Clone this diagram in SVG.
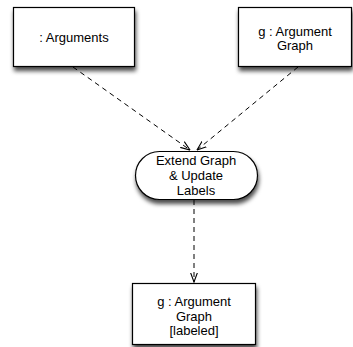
<svg xmlns="http://www.w3.org/2000/svg" width="353" height="347" viewBox="0 0 353 347">
  <style>
    .node { fill: #ffffff; stroke: #000000; stroke-width: 1.2; filter: url(#shadow); }
    .label { font-family: "Liberation Sans", Arial, sans-serif; font-size: 13px; fill: #000000; text-anchor: middle; }
    .flow { fill: none; stroke: #000000; stroke-width: 1; stroke-dasharray: 5 4; marker-end: url(#open-arrow); }
  </style>
  <defs>
    <filter id="shadow" x="-20%" y="-20%" width="140%" height="150%">
      <feDropShadow dx="1" dy="4" stdDeviation="2" flood-color="#000000" flood-opacity="0.7"/>
    </filter>
    <marker id="open-arrow" viewBox="0 0 10 10" refX="9.5" refY="5" markerWidth="10" markerHeight="10" markerUnits="userSpaceOnUse" orient="auto">
      <path d="M0,1.5 L9.5,5 L0,8.5" fill="none" stroke="#000000" stroke-width="1.1"/>
    </marker>
  </defs>

  <!-- object flows -->
  <g id="connectors">
    <path class="flow" d="M73,67 L190,150"/>
    <path class="flow" d="M298,67 L197,150"/>
    <path class="flow" d="M194,200 L194,282"/>
  </g>

  <!-- input object: arguments -->
  <g id="arguments">
    <rect class="node" x="13.5" y="7.5" width="121" height="59"/>
    <text class="label" x="74" y="42">: Arguments</text>
  </g>

  <!-- input object: argument graph -->
  <g id="argument-graph">
    <rect class="node" x="238.5" y="7.5" width="113" height="59"/>
    <text class="label" x="295" y="36">g : Argument</text>
    <text class="label" x="295" y="50">Graph</text>
  </g>

  <!-- action -->
  <g id="extend-graph">
    <rect class="node" x="135.5" y="151.5" width="122" height="48" rx="24" ry="24"/>
    <text class="label" x="196" y="165">Extend Graph</text>
    <text class="label" x="196" y="180">&amp; Update</text>
    <text class="label" x="196" y="195">Labels</text>
  </g>

  <!-- output object: labeled graph -->
  <g id="labeled-graph">
    <rect class="node" x="132.5" y="283.5" width="123" height="61"/>
    <text class="label" x="194" y="306">g : Argument</text>
    <text class="label" x="194" y="321">Graph</text>
    <text class="label" x="194" y="335">[labeled]</text>
  </g>
</svg>
